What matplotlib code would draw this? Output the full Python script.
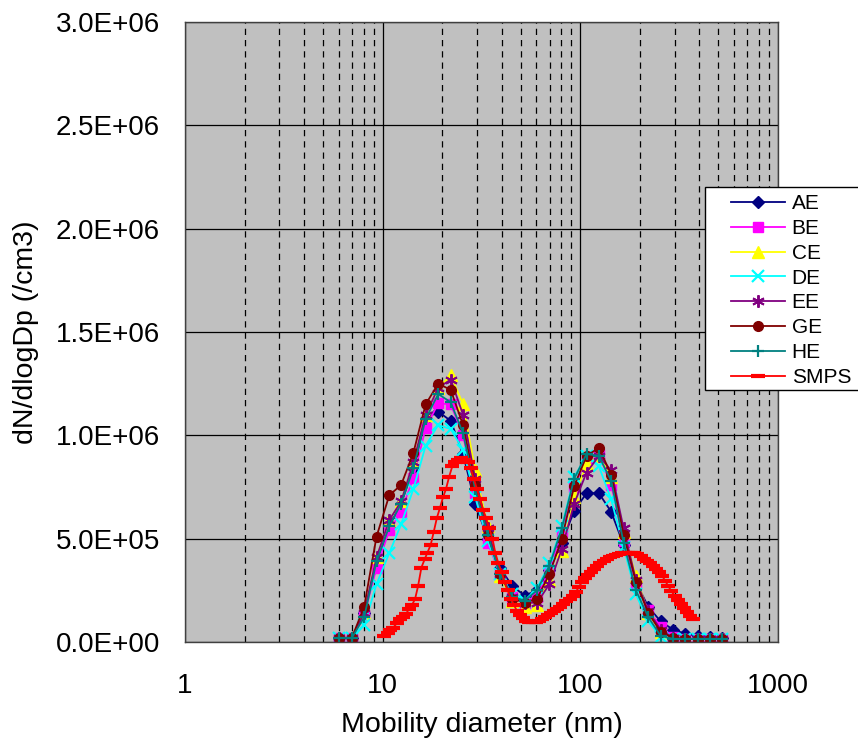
import numpy as np
import matplotlib
matplotlib.use("Agg")
import matplotlib.pyplot as plt
from matplotlib.patches import Rectangle

plt.rcParams['font.family'] = ['Liberation Sans', 'DejaVu Sans']

# EEPS-type sizes (nm) and series (dN/dlogDp, /cm3, in units of 1E6)
eeps_nm = [6.04, 6.98, 8.06, 9.31, 10.8, 12.4, 14.3, 16.5, 19.1, 22.1, 25.5, 29.4,
           34.0, 39.2, 45.3, 52.3, 60.4, 69.8, 80.6, 93.1, 107.5, 124.1, 143.3, 165.5,
           191.1, 220.7, 254.8, 294.3, 339.8, 392.4, 453.2, 523.3]

ae = [0.02, 0.02, 0.14, 0.39, 0.56, 0.67, 0.84, 1.08, 1.115, 1.07, 0.91, 0.67,
      0.50, 0.36, 0.27, 0.225, 0.25, 0.35, 0.48, 0.635, 0.72, 0.72, 0.63, 0.47,
      0.29, 0.17, 0.10, 0.06, 0.04, 0.03, 0.025, 0.02]
be = [0.02, 0.02, 0.13, 0.36, 0.54, 0.63, 0.795, 1.035, 1.155, 1.15, 1.0, 0.72,
      0.48, 0.33, 0.22, 0.19, 0.22, 0.35, 0.53, 0.75, 0.89, 0.91, 0.76, 0.49,
      0.28, 0.155, 0.075, 0.025, 0.015, 0.015, 0.015, 0.015]
ce = [0.02, 0.02, 0.14, 0.41, 0.59, 0.68, 0.87, 1.10, 1.23, 1.29, 1.15, 0.83,
      0.56, 0.32, 0.20, 0.17, 0.18, 0.30, 0.44, 0.70, 0.86, 0.90, 0.80, 0.53,
      0.32, 0.14, 0.05, 0.02, 0.015, 0.015, 0.015, 0.015]
de = [0.02, 0.02, 0.08, 0.28, 0.43, 0.57, 0.74, 0.95, 1.05, 1.03, 0.93, 0.70,
      0.49, 0.33, 0.23, 0.20, 0.26, 0.38, 0.56, 0.80, 0.90, 0.85, 0.69, 0.46,
      0.23, 0.10, 0.025, 0.015, 0.015, 0.015, 0.015, 0.015]
ee = [0.02, 0.02, 0.14, 0.41, 0.59, 0.68, 0.87, 1.10, 1.23, 1.27, 1.10, 0.79,
      0.55, 0.33, 0.22, 0.19, 0.19, 0.28, 0.45, 0.67, 0.82, 0.90, 0.83, 0.55,
      0.30, 0.15, 0.06, 0.02, 0.015, 0.015, 0.015, 0.015]
ge = [0.02, 0.02, 0.17, 0.51, 0.71, 0.76, 0.915, 1.15, 1.25, 1.22, 1.05, 0.76,
      0.52, 0.33, 0.21, 0.19, 0.21, 0.33, 0.50, 0.755, 0.90, 0.94, 0.81, 0.52,
      0.29, 0.14, 0.05, 0.02, 0.015, 0.015, 0.015, 0.015]
he = [0.02, 0.02, 0.12, 0.39, 0.56, 0.67, 0.84, 1.08, 1.20, 1.16, 1.01, 0.74,
      0.52, 0.33, 0.22, 0.20, 0.25, 0.37, 0.55, 0.79, 0.91, 0.90, 0.78, 0.48,
      0.25, 0.12, 0.03, 0.015, 0.015, 0.015, 0.015, 0.015]

# SMPS sizes (nm) and values (units of 1E6)
smps_nm = [10.2, 10.6, 10.9, 11.3, 11.8, 12.2, 12.6, 13.1, 13.6, 14.1, 14.6, 15.1,
           15.7, 16.3, 16.8, 17.5, 18.1, 18.8, 19.5, 20.2, 20.9, 21.7, 22.5, 23.3,
           24.1, 25.0, 25.9, 26.9, 27.9, 28.9, 30.0, 31.1, 32.2, 33.4, 34.6, 35.9,
           37.2, 38.5, 40.0, 41.4, 42.9, 44.5, 46.1, 47.8, 49.6, 51.4, 53.3, 55.2,
           57.3, 59.4, 61.5, 63.8, 66.1, 68.5, 71.0, 73.7, 76.4, 79.1, 82.0, 85.1,
           88.2, 91.4, 94.7, 98.2, 101.8, 105.5, 109.4, 113.4, 117.6, 121.9, 126.3,
           131.0, 135.8, 140.7, 145.9, 151.2, 156.8, 162.5, 168.5, 174.7, 181.1,
           187.7, 194.6, 201.7, 209.1, 216.7, 224.7, 232.9, 241.4, 250.3, 259.5,
           269.0, 278.8, 289.0, 299.6, 310.6, 322.0, 333.8, 346.0, 358.7, 371.8]
smps = [0.03, 0.045, 0.06, 0.07, 0.09, 0.11, 0.12, 0.135, 0.16, 0.18, 0.21, 0.27,
        0.36, 0.40, 0.43, 0.47, 0.53, 0.60, 0.65, 0.70, 0.74, 0.80, 0.85, 0.87,
        0.88, 0.89, 0.88, 0.87, 0.84, 0.79, 0.74, 0.69, 0.64, 0.60, 0.55, 0.50,
        0.43, 0.38, 0.34, 0.29, 0.25, 0.21, 0.18, 0.15, 0.13, 0.115, 0.10, 0.095,
        0.095, 0.095, 0.10, 0.11, 0.12, 0.13, 0.14, 0.15, 0.16, 0.17, 0.185, 0.20,
        0.21, 0.225, 0.24, 0.265, 0.29, 0.31, 0.325, 0.34, 0.355, 0.37, 0.38,
        0.39, 0.40, 0.41, 0.415, 0.42, 0.425, 0.43, 0.43, 0.43, 0.43,
        0.43, 0.425, 0.415, 0.40, 0.39, 0.38, 0.37, 0.355, 0.34, 0.32,
        0.295, 0.27, 0.245, 0.225, 0.205, 0.185, 0.165, 0.145, 0.125, 0.11]

series = [
    ("AE", ae, "#000080", "D", 6, 1.0),
    ("BE", be, "#FF00FF", "s", 7, 1.0),
    ("CE", ce, "#FFFF00", "^", 8, 1.0),
    ("DE", de, "#00FFFF", "x", 8, 1.6),
    ("EE", ee, "#800080", (6, 2, 0), 9, 1.4),
    ("GE", ge, "#800000", "o", 7, 1.0),
    ("HE", he, "#008080", "+", 9, 1.6),
]

fig = plt.figure(figsize=(8.58, 7.41), dpi=100)
ax = fig.add_axes([185/858, 99/741, 593/858, 620/741])
ax.set_facecolor("#C0C0C0")

for name, vals, col, mk, ms, mew in series:
    ax.plot(eeps_nm, np.array(vals) * 1e6, color=col, lw=1.3, marker=mk, ms=ms,
            mfc=col, mec=col, mew=mew, label=name)
ax.plot(smps_nm, np.array(smps) * 1e6, color="#FF0000", lw=1.3, marker="_",
        ms=10, mew=3, label="SMPS")

ax.set_xscale("log")
ax.set_xlim(1, 1000)
ax.set_ylim(0, 3.0e6)
ax.set_yticks(np.arange(0, 3.01e6, 0.5e6))
ax.set_yticklabels(["0.0E+00", "5.0E+05", "1.0E+06", "1.5E+06", "2.0E+06",
                    "2.5E+06", "3.0E+06"])
ax.set_xticks([1, 10, 100, 1000])
ax.set_xticklabels(["1", "10", "100", "1000"])
ax.xaxis.set_minor_formatter(matplotlib.ticker.NullFormatter())

ax.grid(True, which="major", color="black", lw=0.9, ls="-")
ax.grid(True, which="minor", axis="x", color="black", lw=0.9, ls=(0, (5, 4)))
ax.set_axisbelow(True)
ax.tick_params(axis="both", which="both", length=0, labelsize=20)
ax.tick_params(axis="x", pad=22)
ax.tick_params(axis="y", pad=18)
for s in ax.spines.values():
    s.set_color("#404040")
    s.set_linewidth(1)

ax.set_xlabel("Mobility diameter (nm)", fontsize=20.5, labelpad=10)
ax.set_ylabel("dN/dlogDp (/cm3)", fontsize=20.5, labelpad=12)

# legend box runs off the right edge of the figure, as in the original
fig.patches.append(Rectangle((705/858, 1 - 390/741), 170/858, 203/741,
                             transform=fig.transFigure, facecolor="white",
                             edgecolor="black", lw=1, zorder=5))
leg = fig.legend(loc="upper left", bbox_to_anchor=(727/858, 1 - 190/741),
                 fontsize=15, frameon=False, labelspacing=0.28, handlelength=2.6,
                 handletextpad=0.3, borderpad=0.2, borderaxespad=0)
leg.set_zorder(6)

fig.savefig("out.png", dpi=100)
